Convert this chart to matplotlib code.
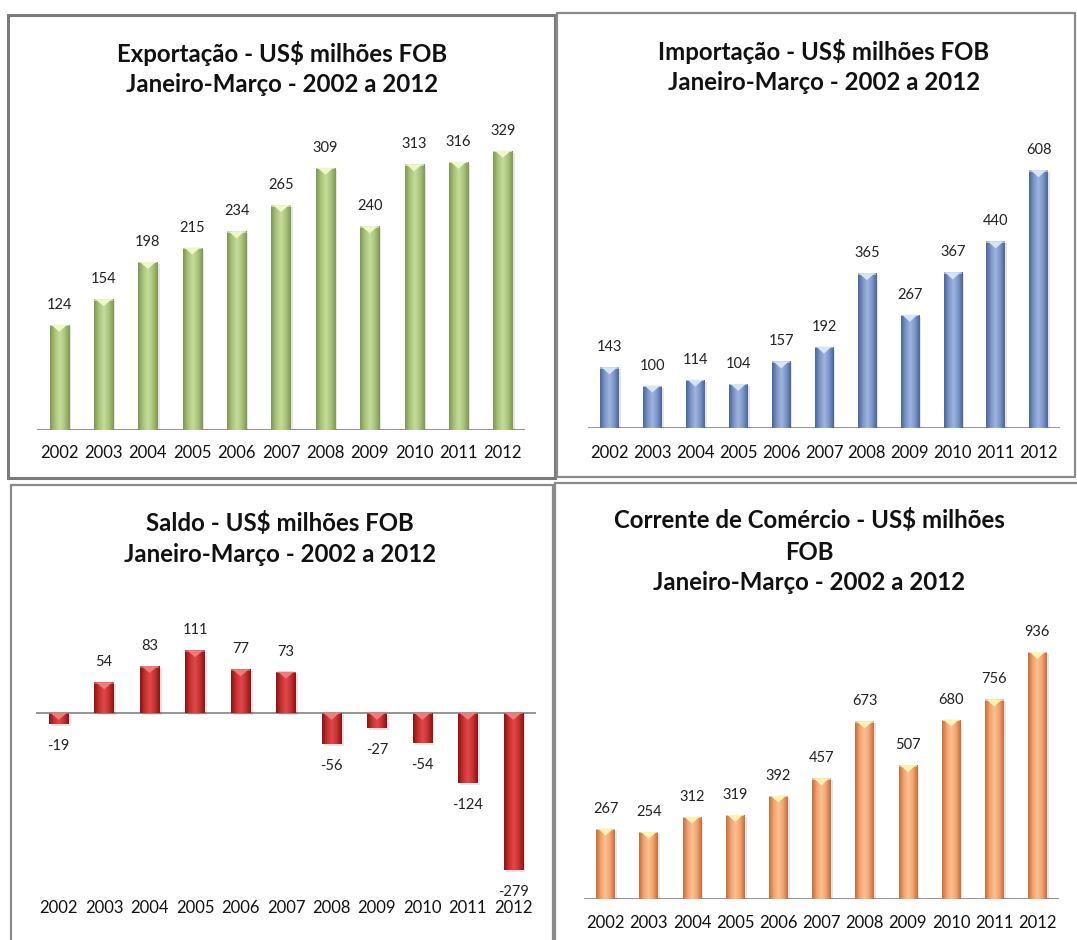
import numpy as np
import matplotlib
matplotlib.use('Agg')
import matplotlib.pyplot as plt
from matplotlib.patches import Rectangle, Polygon
from matplotlib.colors import LinearSegmentedColormap

# ---------------- data ----------------
years = ['2002', '2003', '2004', '2005', '2006', '2007', '2008', '2009', '2010', '2011', '2012']
exportacao = [124, 154, 198, 215, 234, 265, 309, 240, 313, 316, 329]
importacao = [143, 100, 114, 104, 157, 192, 365, 267, 367, 440, 608]
saldo = [-19, 54, 83, 111, 77, 73, -56, -27, -54, -124, -279]
corrente = [267, 254, 312, 319, 392, 457, 673, 507, 680, 756, 936]

title_exp = ['Exportação - US$ milhões FOB', 'Janeiro-Março - 2002 a 2012']
title_imp = ['Importação - US$ milhões FOB', 'Janeiro-Março - 2002 a 2012']
title_sal = ['Saldo - US$ milhões FOB', 'Janeiro-Março - 2002 a 2012']
title_cor = ['Corrente de Comércio - US$ milhões', 'FOB', 'Janeiro-Março - 2002 a 2012']

# ---------------- layout ----------------
W, H = 1077, 940
fig = plt.figure(figsize=(W / 100, H / 100), dpi=100)
fig.patch.set_facecolor('white')

FONT = 'Lato'
PX2PT = 0.72


def fx(x):
    return x / W


def fy(y):
    return 1 - y / H


def border(x0, y0, x1, y1, lw=1.6, color='#8a8a8a'):
    r = Rectangle((fx(x0), fy(y1)), fx(x1) - fx(x0), fy(y0) - fy(y1),
                  transform=fig.transFigure, fill=False, edgecolor=color, lw=lw)
    fig.add_artist(r)


def title(lines, cx, ys, size=17.3):
    for t, y in zip(lines, ys):
        fig.text(fx(cx), fy(y), t, ha='center', va='center', fontsize=size,
                 fontweight='bold', family=FONT, color='#111111')


def panel(box, values, colors, ylim, label_off):
    x0, y0, x1, y1 = box
    ax = fig.add_axes([fx(x0), fy(y1), fx(x1) - fx(x0), fy(y0) - fy(y1)])
    ax.set_facecolor('none')
    for s in ax.spines.values():
        s.set_visible(False)
    ax.set_xticks([])
    ax.set_yticks([])
    dark, mid, light, tip = colors
    ppu = (y1 - y0) / (ylim[1] - ylim[0])
    width = 0.43
    cmap = LinearSegmentedColormap.from_list('g', [dark, mid, light, mid, dark])
    grad = np.linspace(0, 1, 64).reshape(1, -1)
    for i, v in enumerate(values):
        lo, hi = min(0, v), max(0, v)
        sh = Rectangle((i - width / 2 + 0.05, lo - 2 / ppu), width, hi - lo,
                       facecolor='#000000', alpha=0.10, lw=0, zorder=1)
        ax.add_patch(sh)
        rect = Rectangle((i - width / 2, lo), width, hi - lo, facecolor=mid,
                         edgecolor='none', zorder=2)
        ax.add_patch(rect)
        im = ax.imshow(grad, extent=(i - width / 2, i + width / 2, lo, hi),
                       aspect='auto', cmap=cmap, zorder=3, interpolation='bilinear')
        im.set_clip_path(rect)
        th = 7 / ppu
        tri = Polygon([(i - width * 0.42, hi), (i + width * 0.42, hi), (i, hi - th)],
                      closed=True, facecolor=tip, edgecolor='none', zorder=4)
        ax.add_patch(tri)
        band = Rectangle((i - width / 2, hi - 1.5 / ppu), width, 1.5 / ppu,
                         facecolor=tip, alpha=0.6, edgecolor='none', zorder=4)
        ax.add_patch(band)
        if v >= 0:
            ax.annotate(str(v), xy=(i, hi), xytext=(0, 20 * PX2PT), textcoords='offset points',
                        ha='center', va='center', fontsize=10.5, family=FONT, color='#222222')
        else:
            ax.annotate(str(v), xy=(i, lo), xytext=(0, -22 * PX2PT), textcoords='offset points',
                        ha='center', va='center', fontsize=10.5, family=FONT, color='#222222')
        ax.annotate(years[i], xy=(i, 0), xycoords=('data', 'axes fraction'),
                    xytext=(0, -label_off * PX2PT), textcoords='offset points',
                    ha='center', va='center', fontsize=12, family=FONT, color='#111111')
    ax.axhline(0, color='#8c8c8c', lw=1.3, zorder=0)
    ax.set_xlim(-0.5, len(values) - 0.5)
    ax.set_ylim(*ylim)
    return ax


# borders
border(8, 15, 555, 478, lw=2.2, color='#7a7a7a')
border(557, 13, 1075, 477)
border(11, 485, 553, 945)
border(555, 483, 1080, 945)

# panel 1: exportação
title(title_exp, 282, [53, 85])
panel((37, 110, 525, 430), exportacao, ('#7d9853', '#a9c47a', '#c6dc9c', '#eef7c8'), (0, 377), 23)

# panel 2: importação
title(title_imp, 824, [52, 83])
panel((588, 110, 1060, 428), importacao, ('#4b6596', '#7c95c8', '#a0b6e0', '#d3e5fa'), (0, 750), 25)

# panel 3: saldo
title(title_sal, 280, [523, 555])
panel((36, 600, 536, 890), saldo, ('#8a1414', '#c63030', '#df4a4a', '#f27a7a'), (-314, 200), 18)

# panel 4: corrente de comércio
title(title_cor, 809, [520, 552, 583])
panel((584, 610, 1059, 899), corrente, ('#c26e3e', '#f2a36e', '#fcc193', '#fff2b4'), (0, 1095), 24)

fig.savefig('out.png', dpi=100, facecolor='white')
